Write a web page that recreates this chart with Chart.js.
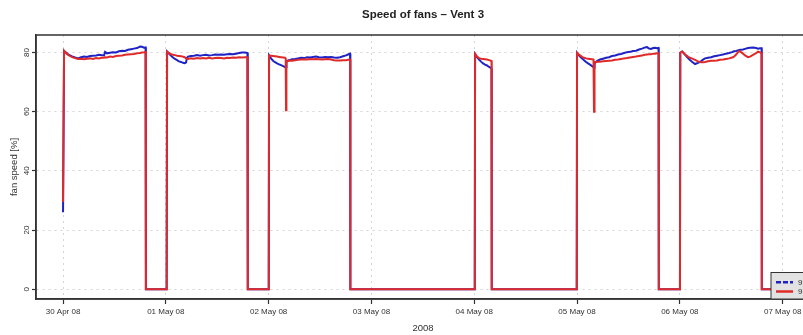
<!DOCTYPE html>
<html>
<head>
<meta charset="utf-8">
<script src="https://cdn.jsdelivr.net/npm/chart.js@4.4.1/dist/chart.umd.min.js"></script>
<style>
html,body{margin:0;padding:0;overflow:hidden;background:#fff;}
#wrap{width:820px;height:335px;}
</style>
</head>
<body>
<div id="wrap"><canvas id="c" width="820" height="335"></canvas></div>
<script>
// ---- data (time in days since 30 Apr 2008 00:00) ----
const timeDays = [
0.000,0.010,0.029,0.049,0.068,0.088,0.117,0.146,0.175,0.204,0.233,0.263,0.292,0.321,0.350,0.379,0.399,0.409,0.428,0.457,0.486,0.515,0.544,0.574,0.603,0.632,0.661,0.690,0.720,0.749,0.768,0.788,0.803,0.806,1.008,
1.012,1.031,1.051,1.070,1.089,1.109,1.128,1.148,1.167,1.182,1.196,1.206,1.216,1.245,1.274,1.304,1.333,1.362,1.391,1.420,1.450,1.479,1.508,1.537,1.566,1.595,1.624,1.654,1.683,1.712,1.741,1.770,1.794,1.797,2.001,
2.004,2.023,2.043,2.062,2.082,2.101,2.121,2.140,2.160,2.166,2.169,2.173,2.189,2.209,2.228,2.257,2.286,2.315,2.345,2.374,2.403,2.432,2.461,2.490,2.519,2.549,2.578,2.607,2.636,2.665,2.695,2.724,2.753,2.772,2.792,2.795,4.005,
4.008,4.018,4.027,4.047,4.066,4.086,4.105,4.124,4.144,4.160,4.168,4.170,4.997,
5.000,5.015,5.029,5.049,5.068,5.088,5.107,5.126,5.146,5.160,5.165,5.170,5.185,5.204,5.224,5.253,5.282,5.311,5.340,5.370,5.399,5.428,5.457,5.486,5.515,5.545,5.574,5.603,5.632,5.661,5.681,5.700,5.720,5.740,5.759,5.778,5.793,5.795,6.001,
6.004,6.023,6.043,6.062,6.082,6.101,6.121,6.148,6.177,6.206,6.226,6.245,6.275,6.304,6.333,6.362,6.391,6.420,6.449,6.479,6.508,6.527,6.547,6.566,6.576,6.595,6.615,6.634,6.654,6.663,6.683,6.712,6.741,6.761,6.780,6.795,6.797,7.400
];
const fanBlue = [
26.0,80.5,80.0,79.4,79.0,78.7,78.3,78.0,78.4,78.6,78.5,78.8,78.9,79.0,79.2,79.1,79.0,80.2,79.7,79.9,80.1,80.0,80.4,80.6,80.5,80.9,81.1,81.3,81.5,82.0,81.9,81.6,81.7,0,0,
80.3,79.6,78.9,78.3,77.8,77.4,77.0,76.8,76.5,76.4,76.6,78.2,78.6,78.8,78.9,79.1,78.9,79.1,79.2,79.0,79.1,79.3,79.2,79.3,79.2,79.4,79.5,79.4,79.6,79.8,80.0,80.0,79.8,0,0,
79.0,78.0,77.2,76.7,76.3,76.0,75.7,75.4,75.1,75.0,75.0,76.8,77.3,77.5,77.7,77.8,78.0,78.2,78.1,78.4,78.3,78.5,78.6,78.4,78.3,78.5,78.4,78.5,78.3,78.2,78.4,78.7,79.0,79.3,79.6,0,0,
79.5,79.0,78.4,77.6,76.9,76.3,75.9,75.6,75.1,74.8,74.6,0,0,
79.9,79.2,78.6,78.0,77.4,76.8,76.3,75.9,75.4,75.0,74.8,76.2,76.9,77.3,77.6,77.9,78.2,78.4,78.8,79.0,79.3,79.5,79.8,80.1,80.2,80.5,80.6,81.0,81.3,81.7,81.8,81.3,81.2,81.5,81.6,81.4,81.5,0,0,
79.9,80.3,79.5,78.8,78.0,77.4,76.8,76.1,76.5,77.0,77.6,78.0,78.2,78.4,78.7,78.9,79.1,79.3,79.6,79.8,80.1,80.4,80.5,80.7,80.8,80.9,81.0,81.2,81.4,81.5,81.6,81.7,81.5,81.3,81.4,81.4,0,0
];
const fanRed = [
29.5,80.6,79.8,79.2,78.8,78.4,78.1,77.8,77.9,77.7,77.9,78.0,77.8,78.1,78.0,78.3,78.2,78.4,78.3,78.6,78.5,78.8,78.9,79.0,79.2,79.3,79.4,79.5,79.7,79.8,80.0,80.1,80.2,0,0,
80.3,79.8,79.4,79.2,79.1,78.9,78.8,78.7,78.6,78.4,78.0,77.9,77.8,78.0,77.9,78.1,78.0,78.1,78.0,78.2,78.0,78.1,78.2,78.1,78.0,78.2,78.1,78.3,78.2,78.4,78.3,78.4,78.4,0,0,
79.0,78.9,78.8,78.7,78.6,78.5,78.4,78.3,78.2,78.1,60.5,77.0,77.1,77.3,77.2,77.4,77.5,77.6,77.7,77.6,77.8,77.7,77.8,77.7,77.6,77.7,77.8,77.6,77.4,77.3,77.3,77.4,77.4,77.5,77.6,0,0,
79.5,79.0,78.6,78.1,77.9,77.8,77.7,77.6,77.4,77.2,77.1,0,0,
79.9,79.4,79.0,78.5,78.2,78.0,77.9,77.8,77.7,77.6,60.0,76.8,76.8,76.9,76.9,77.0,77.1,77.2,77.3,77.5,77.6,77.8,78.0,78.1,78.3,78.5,78.6,78.8,79.0,79.2,79.3,79.4,79.4,79.6,79.6,79.7,79.7,0,0,
79.9,80.3,79.6,79.0,78.5,78.2,77.9,77.5,77.0,76.7,76.7,76.8,77.0,77.2,77.2,77.3,77.5,77.6,77.8,78.0,78.3,78.6,79.3,80.1,80.5,80.1,79.6,79.0,78.6,78.4,78.6,79.2,79.8,80.3,80.0,79.7,0,0
];
const xTickLabels = ['30 Apr 08','01 May 08','02 May 08','03 May 08','04 May 08','05 May 08','06 May 08','07 May 08'];
const yTickValues = [0, 20, 40, 60, 80];
const seriesNames = ['9.3.1', '9.3.2'];
const chartTitle = 'Speed of fans \u2013 Vent 3';
const xTitle = '2008';
const yTitle = 'fan speed [%]';

// ---- styles ----
const BLUE = '#1f22c4';
const RED = '#df2a2a';
const AXIS = '#333333';
const GRID = '#d4d4d4';

const titlePlugin = {
  id: 'rtitle',
  afterDraw(chart) {
    const {ctx, chartArea} = chart;
    ctx.save();
    ctx.font = 'bold 11.5px "Liberation Sans", Arial, sans-serif';
    ctx.fillStyle = '#222';
    ctx.textAlign = 'center';
    ctx.textBaseline = 'middle';
    ctx.fillText(chartTitle, (chartArea.left + chartArea.right) / 2, 15);
    ctx.restore();
  }
};
const boxPlugin = {
  id: 'rbox',
  afterDatasetsDraw(chart) {
    const {ctx, chartArea: a} = chart;
    ctx.save();
    ctx.strokeStyle = AXIS;
    ctx.lineWidth = 1.5;
    ctx.strokeRect(a.left, a.top, a.right - a.left, a.bottom - a.top);
    ctx.restore();
  }
};
const legendPlugin = {
  id: 'rlegend',
  afterDraw(chart) {
    const {ctx, chartArea: a} = chart;
    const x0 = a.right - 39, y0 = a.bottom - 26.5;
    ctx.save();
    ctx.fillStyle = '#e2e2e2';
    ctx.fillRect(x0, y0, a.right - x0, a.bottom - y0);
    ctx.strokeStyle = AXIS;
    ctx.lineWidth = 1;
    ctx.strokeRect(x0, y0, a.right - x0, a.bottom - y0);
    const ds = chart.data.datasets;
    const rows = [{c: ds[0].borderColor, dash: [5, 2], y: y0 + 9.8}, {c: ds[1].borderColor, dash: [], y: y0 + 19}];
    rows.forEach((r, i) => {
      ctx.strokeStyle = r.c;
      ctx.lineWidth = 2.5;
      ctx.setLineDash(r.dash);
      ctx.beginPath();
      ctx.moveTo(x0 + 5, r.y);
      ctx.lineTo(x0 + 22, r.y);
      ctx.stroke();
      ctx.setLineDash([]);
      ctx.fillStyle = '#333';
      ctx.font = '8px "Liberation Sans", Arial, sans-serif';
      ctx.textBaseline = 'middle';
      ctx.textAlign = 'left';
      ctx.fillText(seriesNames[i], x0 + 27, r.y);
    });
    ctx.restore();
  }
};

const mk = (vals) => timeDays.map((t, i) => ({x: t, y: vals[i]}));

new Chart(document.getElementById('c'), {
  type: 'line',
  data: {
    datasets: [
      {label: seriesNames[0], data: mk(fanBlue), borderColor: BLUE, borderWidth: 2, pointRadius: 0, tension: 0, order: 1},
      {label: seriesNames[1], data: mk(fanRed), borderColor: RED, borderWidth: 2, pointRadius: 0, tension: 0, order: 0}
    ]
  },
  plugins: [titlePlugin, boxPlugin, legendPlugin],
  options: {
    responsive: false,
    devicePixelRatio: 1,
    animation: false,
    events: [],
    layout: {padding: {top: 35, right: 10, left: 0, bottom: 0}},
    plugins: {legend: {display: false}, tooltip: {enabled: false}, title: {display: false}},
    scales: {
      x: {
        type: 'linear',
        min: -0.263,
        max: 7.266,
        afterBuildTicks: (s) => { s.ticks = xTickLabels.map((_, i) => ({value: i})); },
        afterFit: (s) => { s.height = 36; },
        ticks: {
          autoSkip: false, maxRotation: 0, minRotation: 0, padding: 3,
          color: '#333', font: {size: 8, family: '"Liberation Sans", Arial, sans-serif'},
          callback: (v) => xTickLabels[v] !== undefined ? xTickLabels[v] : ''
        },
        grid: {color: GRID, lineWidth: 1, tickColor: AXIS, tickLength: 5, tickWidth: 1.2},
        border: {color: AXIS, width: 1.5, dash: [2, 4]},
        title: {display: true, text: xTitle, color: '#333', font: {size: 9.5, family: '"Liberation Sans", Arial, sans-serif'}, padding: {top: 0, bottom: 1}}
      },
      y: {
        type: 'linear',
        min: -3.3,
        max: 85.9,
        afterBuildTicks: (s) => { s.ticks = yTickValues.map(v => ({value: v})); },
        afterFit: (s) => { s.width = 36; },
        ticks: {
          minRotation: 90, maxRotation: 90, crossAlign: 'center', padding: 1,
          color: '#333', font: {size: 8, family: '"Liberation Sans", Arial, sans-serif'}
        },
        grid: {color: GRID, lineWidth: 1, tickColor: AXIS, tickLength: 4, tickWidth: 1.2},
        border: {color: AXIS, width: 1.5, dash: [2, 4]},
        title: {display: true, text: yTitle, color: '#333', font: {size: 9.5, family: '"Liberation Sans", Arial, sans-serif'}, padding: {top: 9, bottom: 0}}
      }
    }
  }
});
</script>
</body>
</html>
